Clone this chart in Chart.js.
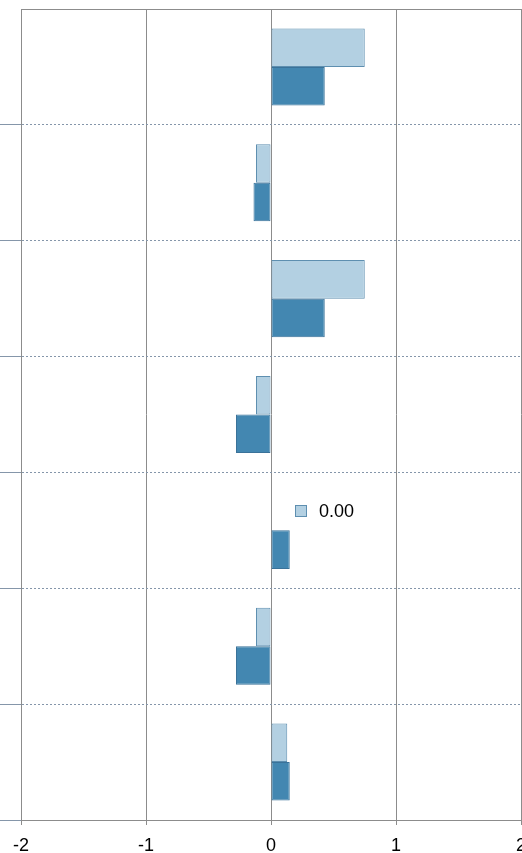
<!DOCTYPE html>
<html>
<head>
<meta charset="utf-8">
<script src="https://cdn.jsdelivr.net/npm/chart.js@4/dist/chart.umd.min.js"></script>
<style>
  html, body { margin: 0; padding: 0; background: #fff; }
  #wrap { width: 522px; height: 853px; }
</style>
</head>
<body>
<div id="wrap"><canvas id="barChart"></canvas></div>
<script>
const categories = ['1', '2', '3', '4', '5', '6', '7']
const lightValues = [0.75, -0.12, 0.75, -0.12, 0.00, -0.12, 0.13]
const darkValues = [0.43, -0.14, 0.43, -0.28, 0.15, -0.28, 0.15]
const xTicks = [-2, -1, 0, 1, 2]
const labelIndex = 4
const labelText = '0.00'

const FONT = '"Liberation Sans", Arial, sans-serif'

// frame round the plot area plus the "0.00" marker label
const framePlugin = {
    id: 'frame',
    afterDraw(chart) {
        const ctx = chart.ctx
        const a = chart.chartArea
        ctx.save()
        ctx.strokeStyle = '#8c8c8c'
        ctx.lineWidth = 1
        ctx.beginPath()
        ctx.moveTo(a.left, a.top + 0.5)
        ctx.lineTo(a.right, a.top + 0.5)
        ctx.stroke()

        const bar = chart.getDatasetMeta(0).data[labelIndex]
        const x0 = chart.scales.x.getPixelForValue(0)
        const y = Math.round(bar.y)
        ctx.fillStyle = '#b3d0e2'
        ctx.strokeStyle = '#5e8fb0'
        ctx.fillRect(x0 + 24, y - 6, 11, 11)
        ctx.strokeRect(x0 + 24.5, y - 5.5, 11, 11)
        ctx.fillStyle = '#000'
        ctx.font = '18px ' + FONT
        ctx.textBaseline = 'middle'
        ctx.fillText(labelText, x0 + 48, y + 1)
        ctx.restore()
    }
}

window.addEventListener('load', () => {
    try {
        buildChart()
    } catch (e) {
        console.error(e)
    }
})

function buildChart() {
    const CHART = document.getElementById('barChart')
    new Chart(CHART, {
        type: 'bar',
        data: {
            labels: categories,
            datasets: [{
                data: lightValues,
                backgroundColor: '#b3d0e2',
                borderColor: '#5e8fb0',
                borderWidth: 1,
                borderSkipped: false
            }, {
                data: darkValues,
                backgroundColor: '#4387b1',
                borderColor: '#3a7299',
                borderWidth: 1,
                borderSkipped: false
            }]
        },
        options: {
            indexAxis: 'y',
            responsive: true,
            maintainAspectRatio: false,
            animation: false,
            layout: { padding: { top: 9, right: 1, left: 0, bottom: 0 } },
            datasets: { bar: { categoryPercentage: 0.665, barPercentage: 1 } },
            plugins: { legend: { display: false }, tooltip: { enabled: false } },
            scales: {
                x: {
                    min: -2,
                    max: 2,
                    afterBuildTicks: (scale) => { scale.ticks = xTicks.map(v => ({ value: v })) },
                    afterFit: (scale) => {
                        scale.height = 33
                        scale.paddingLeft = 0
                        scale.paddingRight = 0
                    },
                    grid: { color: '#8c8c8c', lineWidth: 1, tickLength: 5 },
                    border: { color: '#8c8c8c', width: 1 },
                    ticks: {
                        color: '#000',
                        font: { family: FONT, size: 18 },
                        padding: 10,
                        maxRotation: 0,
                        autoSkip: false
                    }
                },
                y: {
                    offset: true,
                    afterFit: (scale) => { scale.width = 21 },
                    grid: {
                        offset: true,
                        color: (c) => (c.index === 0 || c.index === categories.length) ? 'rgba(0,0,0,0)' : '#8596aa',
                        lineWidth: 1,
                        tickLength: 21
                    },
                    border: { color: '#8c8c8c', width: 1, dash: [2, 2] },
                    ticks: { display: false }
                }
            }
        },
        plugins: [framePlugin]
    })
}
</script>
</body>
</html>
